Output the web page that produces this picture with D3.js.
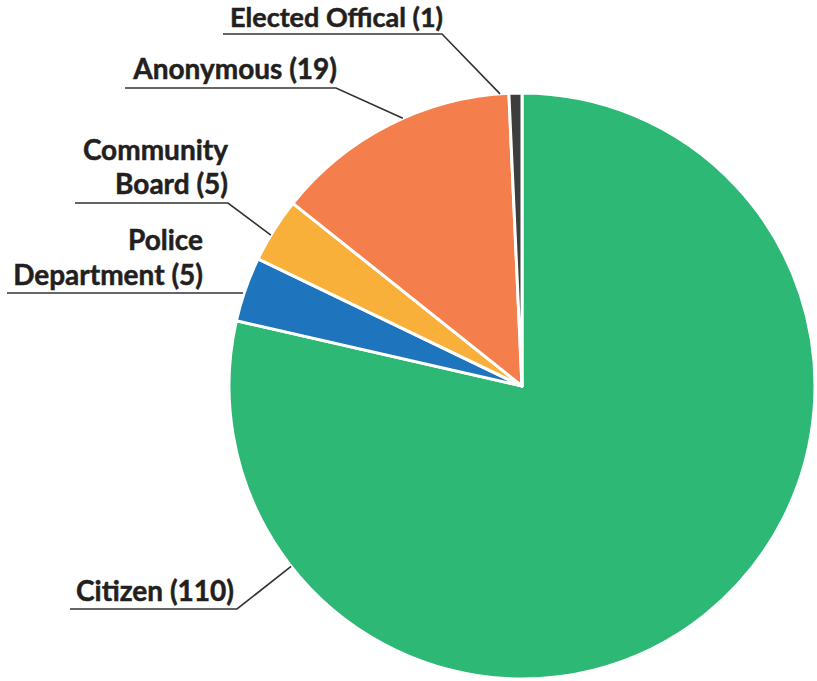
<!DOCTYPE html>
<html><head><meta charset="utf-8">
<script src="https://cdn.jsdelivr.net/npm/d3@7"></script>
<style>
html,body{margin:0;padding:0;background:#fff;}
text{font-family:"Lato","Open Sans",sans-serif;font-weight:700;fill:#231f20;stroke:#231f20;stroke-width:0.5;}
</style></head>
<body>
<svg id="chart" width="817" height="681"></svg>
<script>
const categories = ["Citizen", "Police Department", "Community Board", "Anonymous", "Elected Offical"];
const values = [110, 5, 5, 19, 1];
const colors = ["#2db875", "#1f75bd", "#f9b03b", "#f47f4c", "#3d3d3d"];

// layout: label lines, text anchor x, baseline y per line, leader horizontal segment, anchor angle (deg)
const layout = {
  "Elected Offical": {lines:["Elected Offical (1)"], x:443, y:[27], hx:[223,442], hy:34, ang:355.7},
  "Anonymous": {lines:["Anonymous (19)"], x:337, y:[79], hx:[125,336], hy:88, ang:336},
  "Community Board": {lines:["Community","Board (5)"], x:228, y:[160,194], hx:[75,228], hy:203, ang:301},
  "Police Department": {lines:["Police","Department (5)"], x:203, y:[250,285], hx:[7,243], hy:293, ang:null},
  "Citizen": {lines:["Citizen (110)"], x:234, y:[601], hx:[70,237], hy:609, ang:232}
};

const svg = d3.select("#chart");
const cx = 522, cy = 386, R = 293;
const g = svg.append("g").attr("transform", `translate(${cx},${cy})`);

const pie = d3.pie().sort(null).value(d => d.v);
const data = pie(categories.map((c,i) => ({c, v: values[i], col: colors[i]})));
const arc = d3.arc().innerRadius(0).outerRadius(R);

g.selectAll("path").data(data).enter().append("path")
  .attr("d", arc)
  .attr("fill", d => d.data.col)
  .attr("stroke", "#fff")
  .attr("stroke-width", 3)
  .attr("stroke-linejoin", "round");

data.forEach(d => {
  const L = layout[d.data.c];
  const ang = (L.ang != null ? L.ang : (d.startAngle + d.endAngle) / 2 * 180 / Math.PI) * Math.PI / 180;
  const px = cx + R * Math.sin(ang), py = cy - R * Math.cos(ang);
  let pts;
  if (L.ang == null) {
    pts = [[L.hx[0], L.hy], [L.hx[1], L.hy]];
  } else {
    pts = [[L.hx[0], L.hy], [L.hx[1], L.hy], [px, py]];
  }
  svg.append("path")
    .attr("d", d3.line()(pts))
    .attr("fill", "none")
    .attr("stroke", "#333")
    .attr("stroke-width", 1.6);
  L.lines.forEach((t, i) => {
    svg.append("text")
      .attr("x", L.x).attr("y", L.y[i])
      .attr("text-anchor", "end")
      .attr("font-size", d.data.c === "Elected Offical" ? 27 : 28)
      .text(t);
  });
});
</script>
</body></html>
